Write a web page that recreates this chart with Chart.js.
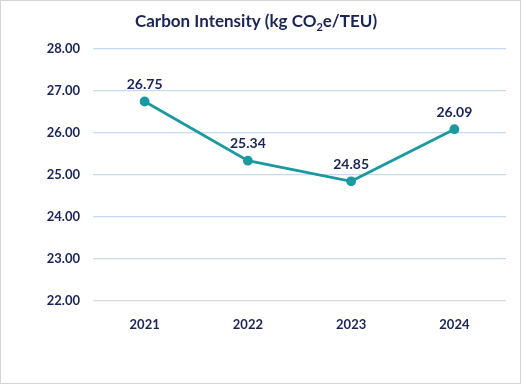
<!DOCTYPE html>
<html>
<head>
<meta charset="utf-8">
<script src="https://cdn.jsdelivr.net/npm/chart.js@4/dist/chart.umd.min.js"></script>
<style>
  html, body { margin: 0; padding: 0; background: #fff; }
  #wrap { width: 521px; height: 384px; box-sizing: border-box; border: 1px solid #d4d4d4; }
  #wrap canvas { display: block; }
</style>
</head>
<body>
<div id="wrap"><canvas id="myChart" width="519" height="382"></canvas></div>
<script>
const years = ["2021", "2022", "2023", "2024"]
const intensity = [26.75, 25.34, 24.85, 26.09]
const yTicks = [22, 23, 24, 25, 26, 27, 28]

const navy = "#1a2456"
const teal = "#1a9aa0"
const fontName = "Lato, 'Open Sans', sans-serif"

// title with a real subscript 2
const titlePlugin = {
    id: "subTitle",
    afterDraw(chart)
    {
        let ctx = chart.ctx
        let parts = [
            { t: "Carbon Intensity (kg CO", size: 17, dy: 0 },
            { t: "2", size: 11, dy: 4 },
            { t: "e/TEU)", size: 17, dy: 0 }
        ]
        ctx.save()
        ctx.fillStyle = navy
        ctx.textBaseline = "alphabetic"
        let total = 0
        parts.forEach(p => {
            ctx.font = "bold " + p.size + "px " + fontName
            p.w = ctx.measureText(p.t).width
            total += p.w
        })
        let x = 255 - total / 2
        parts.forEach(p => {
            ctx.font = "bold " + p.size + "px " + fontName
            ctx.fillText(p.t, x, 26 + p.dy)
            x += p.w
        })
        ctx.restore()
    }
}

// value labels over the points
const valueLabels = {
    id: "valueLabels",
    afterDatasetsDraw(chart)
    {
        let ctx = chart.ctx
        let meta = chart.getDatasetMeta(0)
        ctx.save()
        ctx.fillStyle = navy
        ctx.font = "bold 14px " + fontName
        ctx.textAlign = "center"
        ctx.textBaseline = "bottom"
        meta.data.forEach((pt, i) => {
            ctx.fillText(intensity[i].toFixed(2), pt.x, pt.y - 10)
        })
        ctx.restore()
    }
}

new Chart("myChart", {
    type: "line",
    data: {
        labels: years,
        datasets: [{
            data: intensity,
            borderColor: teal,
            backgroundColor: teal,
            borderWidth: 2.8,
            pointRadius: 3.5,
            pointHoverRadius: 3.5,
            tension: 0
        }]
    },
    options: {
        responsive: false,
        animation: false,
        layout: {
            padding: { top: 48, right: 14, bottom: 42, left: 0 }
        },
        plugins: {
            legend: { display: false },
            title: { display: false },
            tooltip: { enabled: false }
        },
        scales: {
            x: {
                offset: true,
                grid: { display: false },
                border: { display: false },
                ticks: {
                    color: navy,
                    padding: 8,
                    font: { family: fontName, size: 13, weight: "bold" }
                },
                afterFit: scale => { scale.height = 40 }
            },
            y: {
                min: 22,
                max: 28,
                afterBuildTicks: scale => { scale.ticks = yTicks.map(v => ({ value: v })) },
                grid: {
                    drawTicks: false,
                    lineWidth: 1.3,
                    color: c => c.tick && c.tick.value === 22 ? "#d9d9d9" : "#c6d9f1"
                },
                border: { display: false },
                ticks: {
                    color: navy,
                    padding: 13,
                    font: { family: fontName, size: 13, weight: "bold" },
                    callback: v => Number(v).toFixed(2)
                },
                afterFit: scale => { scale.width = 92 }
            }
        }
    },
    plugins: [titlePlugin, valueLabels]
})
</script>
</body>
</html>
